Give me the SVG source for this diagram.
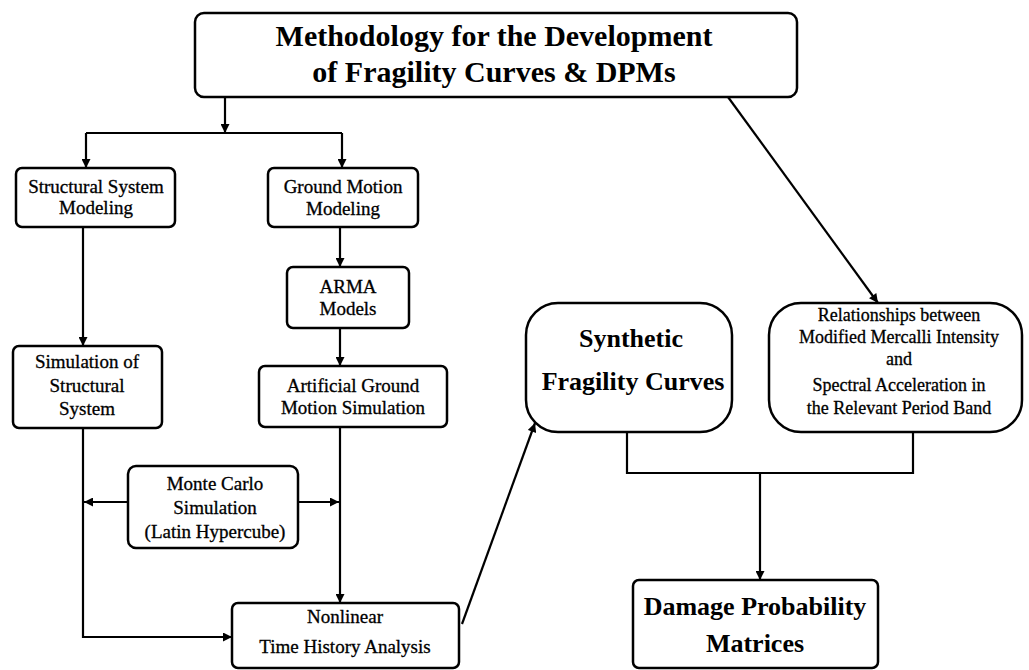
<svg xmlns="http://www.w3.org/2000/svg" width="1029" height="670" viewBox="0 0 1029 670">
<defs>
<marker id="ah" viewBox="0 0 10 10" refX="10" refY="5" markerWidth="10" markerHeight="9" markerUnits="userSpaceOnUse" orient="auto">
<path d="M0,0 L10,5 L0,10 z" fill="#000"/>
</marker>
<style>
.box{fill:#fff;stroke:#000;stroke-width:2.5}
.c{fill:none;stroke:#000;stroke-width:2.2}
.s{font-family:"Liberation Serif","Times New Roman",serif;font-size:19px;text-anchor:middle;fill:#000;stroke:#000;stroke-width:0.3}
.r{font-family:"Liberation Serif","Times New Roman",serif;font-size:18px;text-anchor:middle;fill:#000;stroke:#000;stroke-width:0.3}
.b{font-family:"Liberation Serif","Times New Roman",serif;font-weight:bold;font-size:26px;text-anchor:middle;fill:#000}
.t{font-family:"Liberation Serif","Times New Roman",serif;font-weight:bold;font-size:30px;text-anchor:middle;fill:#000}
</style>
</defs>
<rect width="1029" height="670" fill="#fff"/>
<g id="connectors">
<path class="c" d="M225,97 V133" marker-end="url(#ah)"/>
<path class="c" d="M86,133 H342"/>
<path class="c" d="M86,133 V168" marker-end="url(#ah)"/>
<path class="c" d="M342,133 V168" marker-end="url(#ah)"/>
<path class="c" d="M83,227 V346" marker-end="url(#ah)"/>
<path class="c" d="M340,227 V267" marker-end="url(#ah)"/>
<path class="c" d="M340,328 V366" marker-end="url(#ah)"/>
<path class="c" d="M340,427 V603" marker-end="url(#ah)"/>
<path class="c" d="M83,428 V637 H232" marker-end="url(#ah)"/>
<path class="c" d="M128,502 H84" marker-end="url(#ah)"/>
<path class="c" d="M298,502 H339" marker-end="url(#ah)"/>
<path class="c" d="M462,624 L535,423" marker-end="url(#ah)"/>
<path class="c" d="M728,97 L878,303" marker-end="url(#ah)"/>
<path class="c" d="M627,432 V473 H913 V432"/>
<path class="c" d="M760,473 V580" marker-end="url(#ah)"/>
</g>
<g id="title">
<rect class="box" x="195" y="13" width="602" height="84" rx="9"/>
<text class="t" x="494" y="46">Methodology for the Development</text>
<text class="t" x="494" y="82">of Fragility Curves &amp; DPMs</text>
</g>
<g id="structural-modeling">
<rect class="box" x="16" y="168" width="159" height="59" rx="6"/>
<text class="s" x="96" y="193">Structural System</text>
<text class="s" x="96" y="214">Modeling</text>
</g>
<g id="ground-motion-modeling">
<rect class="box" x="268" y="168" width="150" height="59" rx="6"/>
<text class="s" x="343" y="193">Ground Motion</text>
<text class="s" x="343" y="215">Modeling</text>
</g>
<g id="arma">
<rect class="box" x="287" y="267" width="122" height="61" rx="6"/>
<text class="s" x="348" y="293">ARMA</text>
<text class="s" x="348" y="315">Models</text>
</g>
<g id="simulation-structural">
<rect class="box" x="13" y="346" width="149" height="82" rx="6"/>
<text class="s" x="87" y="368">Simulation of</text>
<text class="s" x="87" y="392">Structural</text>
<text class="s" x="87" y="415">System</text>
</g>
<g id="artificial-ground-motion">
<rect class="box" x="259" y="366" width="188" height="61" rx="6"/>
<text class="s" x="353" y="392">Artificial Ground</text>
<text class="s" x="353" y="414">Motion Simulation</text>
</g>
<g id="monte-carlo">
<rect class="box" x="128" y="466" width="170" height="82" rx="8"/>
<text class="s" x="215" y="490">Monte Carlo</text>
<text class="s" x="215" y="514">Simulation</text>
<text class="s" x="215" y="538">(Latin Hypercube)</text>
</g>
<g id="nonlinear">
<rect class="box" x="232" y="603" width="227" height="65" rx="6"/>
<text class="s" x="345" y="623">Nonlinear</text>
<text class="s" x="345" y="653">Time History Analysis</text>
</g>
<g id="synthetic">
<rect class="box" x="526" y="303" width="206" height="129" rx="32"/>
<text class="b" x="631" y="347">Synthetic</text>
<text class="b" x="633" y="390">Fragility Curves</text>
</g>
<g id="relationships">
<rect class="box" x="769" y="303" width="253" height="129" rx="32"/>
<text class="r" x="899" y="321">Relationships between</text>
<text class="r" x="899" y="343">Modified Mercalli Intensity</text>
<text class="r" x="899" y="365">and</text>
<text class="r" x="899" y="391">Spectral Acceleration in</text>
<text class="r" x="899" y="414">the Relevant Period Band</text>
</g>
<g id="damage">
<rect class="box" x="633" y="580" width="245" height="88" rx="6"/>
<text class="b" x="755" y="615">Damage Probability</text>
<text class="b" x="755" y="652">Matrices</text>
</g>
</svg>
